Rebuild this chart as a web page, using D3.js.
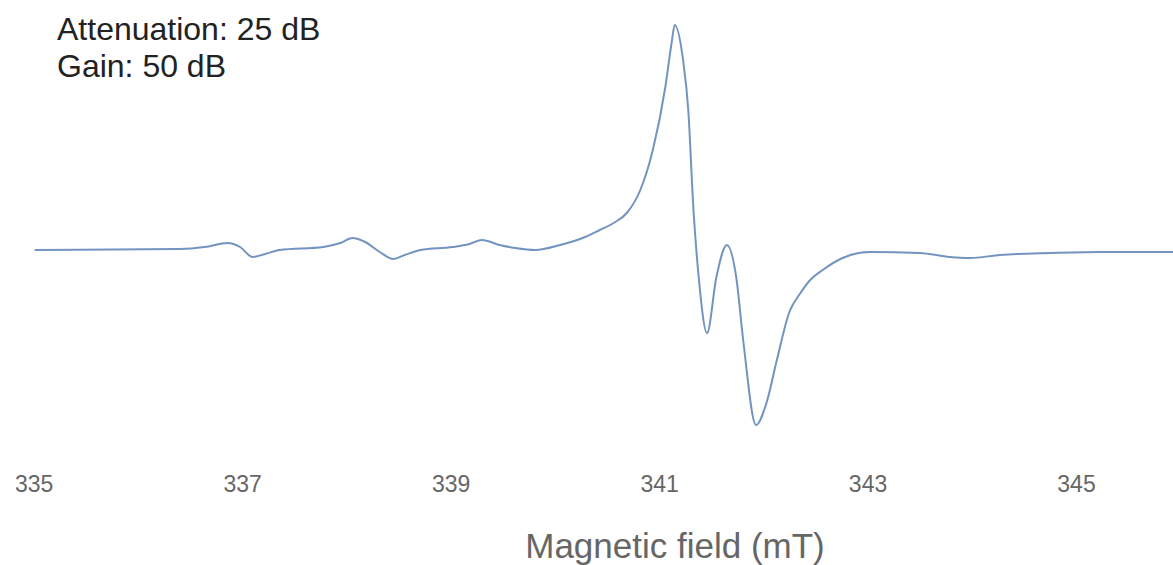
<!DOCTYPE html>
<html>
<head>
<meta charset="utf-8">
<script src="https://cdn.jsdelivr.net/npm/d3@7"></script>
<style>
  body { margin: 0; background: #fff; }
  text { font-family: "Liberation Sans", Arial, sans-serif; }
</style>
</head>
<body>
<div id="chart"></div>
<script>
// EPR spectrum, signal in arbitrary units
var field = [335.01, 336.40, 336.64, 336.86, 336.98, 337.10, 337.22, 337.36, 337.78, 337.94,
  338.06, 338.18, 338.32, 338.45, 338.56, 338.71, 339.02, 339.18, 339.30, 339.47,
  339.62, 339.81, 340.05, 340.29, 340.43, 340.58, 340.69, 340.82, 340.94, 341.06,
  341.12, 341.15, 341.23, 341.28, 341.33, 341.38, 341.46, 341.55, 341.65, 341.74,
  341.81, 341.93, 342.03, 342.13, 342.25, 342.35, 342.45, 342.57, 342.76, 343.02,
  343.50, 343.79, 343.98, 344.27, 344.75, 345.23, 345.95];
var signal = [0, 0.1, 0.3, 0.7, 0.3, -0.7, -0.4, 0, 0.3, 0.7,
  1.2, 0.8, -0.2, -0.9, -0.5, 0, 0.3, 0.6, 1.0, 0.5,
  0.2, 0, 0.5, 1.3, 2.0, 2.8, 3.7, 6.0, 10.0, 16.3,
  20.7, 22.5, 19.0, 14.0, 4.0, -2.7, -8.3, -2.7, 0.5, -2.7,
  -9.3, -17.5, -15.3, -11.0, -6.2, -4.4, -3.0, -2.0, -0.8, -0.2,
  -0.3, -0.7, -0.8, -0.5, -0.3, -0.2, -0.2];
var tickLabels = [335, 337, 339, 341, 343, 345];
var notes = ["Attenuation: 25 dB", "Gain: 50 dB"];
var xTitle = "Magnetic field (mT)";

var width = 1173,
    height = 565;

var svg = d3.select("#chart")
    .append("svg")
    .attr("width", width)
    .attr("height", height);

var x = d3.scaleLinear()
    .domain([335, 345])
    .range([33.7, 1076]);
var y = d3.scaleLinear()
    .domain([-17.5, 22.5])
    .range([425, 25]);

var data = field.map(function(f, i) { return {f: f, v: signal[i]}; });

var line = d3.line()
    .x(function(d) { return x(d.f); })
    .y(function(d) { return y(d.v); })
    .curve(d3.curveMonotoneX);

svg.append("path")
    .datum(data)
    .attr("fill", "none")
    .attr("stroke", "#7294bf")
    .attr("stroke-width", 2)
    .attr("d", line);

var axis = d3.axisBottom(x)
    .tickValues(tickLabels)
    .tickSize(0)
    .tickPadding(0)
    .tickFormat(d3.format("d"));

var gx = svg.append("g")
    .attr("transform", "translate(0,476)")
    .call(axis);
gx.select(".domain").remove();
gx.selectAll("text")
    .attr("dy", "0.71em")
    .style("font-size", "23px")
    .style("font-family", "'Liberation Sans', Arial, sans-serif")
    .attr("fill", "#666");

svg.append("text")
    .attr("x", 675)
    .attr("y", 558)
    .attr("text-anchor", "middle")
    .style("font-size", "35px")
    .attr("fill", "#666")
    .text(xTitle);

svg.selectAll(".note")
    .data(notes)
    .enter().append("text")
    .attr("class", "note")
    .attr("x", 57)
    .attr("y", function(d, i) { return 40 + i * 37; })
    .style("font-size", "32px")
    .attr("fill", "#222")
    .text(function(d) { return d; });
</script>
</body>
</html>
